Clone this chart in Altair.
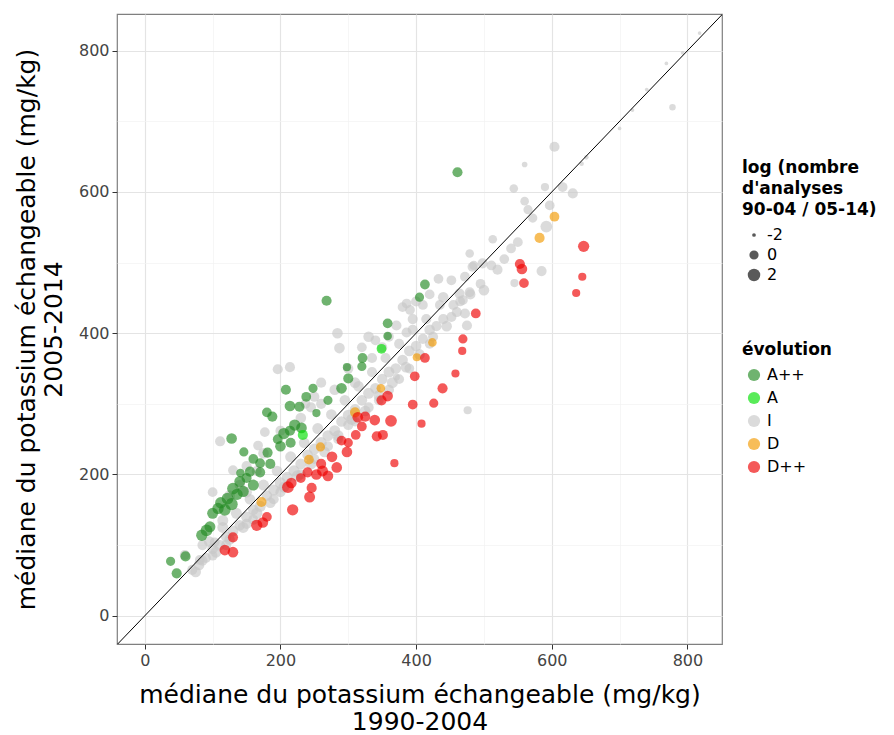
import altair as alt
import pandas as pd

# ---- data (mg/kg medians; size = log ratio of analyses) ----
classes = ["A++", "A", "I", "D", "D++"]
class_colors = ["#228b22", "#00e000", "#c8c8c8", "#f29a00", "#ee0000"]

i_x = [604, 560, 544, 590, 616, 631, 560, 565, 572, 597, 592, 550, 513, 479, 511, 585, 545, 500, 485, 472,
       433, 452, 440, 464, 386, 391, 498, 483, 469, 479, 452, 472, 475, 476, 371, 778,
       818, 793, 769, 719, 651, 644, 700, 740,
       284, 287, 196, 214, 111, 167, 130, 100, 81, 59, 103, 177, 380, 371, 386, 340, 320, 330, 250, 260, 237, 150,
       70, 80, 90, 100, 110, 120, 130, 140, 150, 160, 170, 180, 190, 200, 210, 220, 230, 240, 250, 260,
       270, 280, 290, 300, 310, 320, 330, 340, 350, 360, 370, 380, 390, 400, 410, 420, 430, 440, 455, 465,
       95, 115, 135, 155, 175, 195, 215, 235, 255, 275, 295, 315, 335, 355, 375, 395, 415, 435,
       150, 190, 230, 270, 300, 330, 360, 390, 420, 200, 250, 120, 285, 345, 375, 310, 160, 100,
       75, 85, 105, 125, 145, 165, 185, 205, 225, 245, 265, 285, 305, 325, 345, 365, 385, 405, 425, 445,
       460, 480, 495, 520, 530, 540,
       260, 280, 300, 310, 335, 350, 360, 395, 410, 420, 400, 230, 245, 175, 200, 125, 140, 165, 150, 115, 85]
i_y = [664, 639, 605, 607, 607, 598, 587, 575, 563, 581, 551, 529, 533, 513, 496, 488, 471, 461, 496, 480,
       477, 475, 451, 456, 442, 433, 499, 494, 447, 458, 423, 428, 411, 291, 338, 720,
       825, 797, 782, 716, 649, 640, 690, 745,
       400, 379, 349, 352, 247, 241, 206, 175, 79, 86, 104, 260, 437, 411, 401, 390, 380, 395, 310, 330, 300, 212,
       65, 72, 82, 95, 100, 112, 120, 128, 140, 150, 155, 170, 178, 188, 196, 205, 215, 228, 236, 245,
       255, 262, 275, 284, 292, 305, 315, 322, 335, 345, 350, 362, 375, 382, 392, 405, 410, 420, 440, 445,
       105, 125, 145, 165, 185, 205, 225, 245, 265, 285, 305, 325, 345, 365, 385, 405, 420, 440,
       130, 165, 200, 240, 270, 295, 320, 350, 385, 175, 222, 100, 250, 305, 335, 275, 136, 85,
       62, 78, 90, 108, 125, 145, 160, 182, 198, 215, 232, 255, 278, 290, 312, 330, 352, 370, 395, 410,
       430, 455, 470, 490, 505, 520,
       300, 320, 350, 330, 365, 380, 395, 420, 440, 455, 445, 280, 295, 230, 262, 170, 185, 205, 175, 135, 100]
i_s = [0.5, -1.5, -0.3, -0.5, 0.3, 0.5, -0.3, 0, 0, 0.3, 1.5, 0.3, -0.3, -0.3, 0.3, 0.5, -0.5, 0.8, 0, 0.3,
       0.3, 0.3, 0.8, 0.5, 0.3, 0.3, 0.5, 0.3, 0.3, 0.5, 0.5, 0.5, 0.5, -0.5, -1, -1.2,
       -2, -2, -2, -2, -1.8, -1.8, -2, -2,
       0.8, 0.8, 0.5, 0.5, 0.5, 0.3, 0.3, 0.3, 0.3, 0.5, 0.3, 0.3, 0.3, 0.5, 0.5, 0.3, 0.3, 0.8, 0.5, 0.5, 0.3, 0.5,
       0.5, 0.8, 0.5, 0.8, 1, 0.8, 1, 0.8, 1, 0.8, 1.2, 0.8, 1, 1.2, 1, 1.2, 1, 0.8, 1, 1.2,
       1, 1, 0.8, 1, 1, 0.8, 1, 0.8, 0.8, 1, 0.8, 0.8, 0.8, 0.8, 0.5, 0.8, 0.5, 0.5, 0.5, 0.3,
       0.8, 1, 1, 0.8, 1, 0.8, 1, 0.8, 1, 0.8, 0.8, 0.8, 0.5, 0.5, 0.5, 0.5, 0.5, 0.3,
       0.5, 0.5, 0.5, 0.5, 0.5, 0.5, 0.5, 0.3, 0.3, 0.5, 0.5, 0.5, 0.3, 0.3, 0.3, 0.3, 0.5, 0.3,
       0.8, 0.5, 1, 0.8, 1, 1.2, 0.8, 1, 1.2, 1, 0.8, 1, 1, 0.8, 0.8, 1, 0.8, 0.8, 0.5, 0.8,
       0.5, 0.5, 0.3, 0.5, 0.3, 0.3,
       0.5, 0.8, 0.5, 0.8, 0.5, 0.5, 0.3, 0.5, 0.3, 0.3, 0.5, 0.8, 0.5, 0.8, 0.5, 1, 0.8, 0.5, 0.8, 1, 0.5]

app_x = [461, 268, 413, 405, 358, 358, 321, 320, 298, 290, 248, 208, 214, 228, 180, 188, 253, 221, 231, 205,
         214, 196, 128, 146, 181, 170, 155, 141, 170, 130, 136, 122, 112, 128, 118, 108, 100, 140, 150, 91,
         84, 96, 60, 38, 47, 238, 200, 215, 160, 185, 300, 270, 160, 145]
app_y = [628, 446, 469, 451, 414, 396, 365, 353, 352, 322, 322, 320, 297, 296, 288, 282, 287, 270, 266, 258,
         262, 250, 251, 232, 231, 216, 204, 202, 203, 180, 172, 166, 160, 158, 150, 152, 145, 190, 195, 121,
         114, 126, 84, 77, 60, 310, 240, 245, 222, 215, 336, 305, 185, 176]
app_s = [0.5, 0.5, 0.3, 0, 0.3, -0.3, 0.3, 0, -0.5, 0.8, 0, 0.5, 0.8, 0.5, 0.3, 0.5, -0.5, 1.2, 0.8, 1.2,
         0.5, 0.3, 0.8, 0, 0.5, 0.3, 0.5, -0.3, 0.5, 1.5, 1.2, 1.5, 1.2, 1.8, 1.5, 1.2, 1, 1, 0.5, 1.5,
         1.2, 1, 0.5, 0, 0.5, 0.3, 0.8, 0.5, 0.3, 0.5, 0.5, 0, 1, 1.2]

a_x = [233, 349]
a_y = [256, 378]
a_s = [0.5, 0.3]

d_x = [604, 582, 310, 348, 259, 242, 172, 424, 401]
d_y = [565, 535, 288, 322, 239, 221, 161, 387, 366]
d_s = [0.3, 0.5, 0.5, -0.3, 0, 0.3, 0.5, -0.3, -0.5]

dpp_x = [647, 645, 636, 556, 553, 559, 488, 469, 468, 458, 439, 426, 408, 395, 398, 413, 358, 349, 363, 339,
         325, 314, 368, 311, 290, 342, 351, 298, 276, 262, 270, 283, 253, 240, 211, 216, 246, 243, 218, 165,
         174, 130, 118, 130, 260, 230, 300, 320, 180]
dpp_y = [523, 480, 457, 491, 498, 471, 428, 392, 375, 343, 322, 301, 272, 299, 339, 365, 311, 305, 276, 277,
         282, 281, 216, 256, 248, 254, 256, 232, 225, 205, 198, 210, 200, 203, 182, 188, 181, 168, 150, 128,
         132, 111, 93, 90, 215, 195, 245, 268, 140]
dpp_s = [1.2, -0.5, -0.5, 0.8, 0.5, 0.3, 0.3, 0, -0.5, -0.5, 0.5, 0, -0.5, 0.3, 0.3, 0.3, 0.8, 0.5, 1.5, 0.8,
         0.5, 0.8, -0.5, 0.3, 0.3, 0.5, 0.5, 0.8, 0.8, 1, 0.8, 0.8, 0.8, 0.5, 1.5, 0.8, 0.5, 1, 1.2, 1.2,
         0.8, 0.5, 0.8, 0.8, 0.5, 0.3, 0, 0.3, 0.3]

diag = [-100, 1000]

# ---- table ----
frames = []
for cls, xs, ys, ss in [("I", i_x, i_y, i_s), ("A++", app_x, app_y, app_s), ("A", a_x, a_y, a_s),
                        ("D", d_x, d_y, d_s), ("D++", dpp_x, dpp_y, dpp_s)]:
    frames.append(pd.DataFrame({"kx": xs, "ky": ys, "lg": ss, "evolution": cls}))
df = pd.concat(frames, ignore_index=True)
df["order"] = range(len(df))
line_df = pd.DataFrame({"kx": diag, "ky": diag})

FONT = "DejaVu Sans"
major = "datum.value % 200 === 0"

def make_axis(title, pad):
    return alt.Axis(
        title=title,
        values=[0, 100, 200, 300, 400, 500, 600, 700, 800],
        labelExpr="datum.value % 200 === 0 ? datum.label : ''",
        gridColor={"condition": {"test": major, "value": "#e4e4e4"}, "value": "#f2f2f2"},
        gridWidth={"condition": {"test": major, "value": 1.2}, "value": 0.7},
        tickOpacity={"condition": {"test": major, "value": 1}, "value": 0},
        tickColor="#333333",
        tickSize=5,
        domain=False,
        labelFont=FONT,
        labelFontSize=16,
        labelColor="#444444",
        labelPadding=3,
        titleFont=FONT,
        titleFontSize=25,
        titleFontWeight="normal",
        titleColor="black",
        titleLineHeight=27,
        titlePadding=pad,
    )

xscale = alt.Scale(domain=[-41, 851], nice=False, zero=False)
yscale = alt.Scale(domain=[-40, 852], nice=False, zero=False)

xenc = alt.X("kx:Q", scale=xscale,
             axis=make_axis(["médiane du potassium échangeable (mg/kg)", "1990-2004"], 14))
yenc = alt.Y("ky:Q", scale=yscale,
             axis=make_axis(["médiane du potassium échangeable (mg/kg)", "2005-2014"], 12))

points = alt.Chart(df).mark_circle(opacity=0.65, clip=True, strokeWidth=0).encode(
    x=xenc,
    y=yenc,
    color=alt.Color("evolution:N", scale=alt.Scale(domain=classes, range=class_colors),
                    legend=alt.Legend(title="évolution", orient="none", legendX=625, legendY=328,
                                      symbolType="circle", symbolSize=150, symbolOpacity=0.65,
                                      symbolStrokeWidth=0, rowPadding=7, symbolOffset=4)),
    size=alt.Size("lg:Q", scale=alt.Scale(domain=[-2.3, 2.4], range=[3, 170]),
                  legend=alt.Legend(title=["log (nombre", "\u00a0d'analyses", "\u00a090-04 / 05-14)"],
                                    values=[-2, 0, 2], labelExpr="'' + datum.value",
                                    orient="none", legendX=625, legendY=146,
                                    symbolType="circle", symbolFillColor="black", symbolOpacity=0.65,
                                    symbolStrokeWidth=0, rowPadding=4, symbolOffset=4)),
    order=alt.Order("order:Q"),
)

line = alt.Chart(line_df).mark_line(color="black", strokeWidth=1, clip=True).encode(
    x=xenc, y=yenc
)

chart = alt.layer(points, line).properties(
    width=605, height=630,
    padding={"left": 109, "top": 6, "right": 160, "bottom": 90},
    autosize=alt.AutoSizeParams(type="none"),
    background="white",
).configure_view(
    stroke="#7f7f7f", strokeWidth=1.2
).configure_legend(
    titleFont=FONT, titleFontSize=17, titleFontWeight="bold", titleColor="black",
    titleLineHeight=21, titlePadding=8,
    labelFont=FONT, labelFontSize=16, labelColor="black", labelOffset=5,
    padding=0,
)

chart.save("out.html", embed_options={"renderer": "svg", "actions": False})
